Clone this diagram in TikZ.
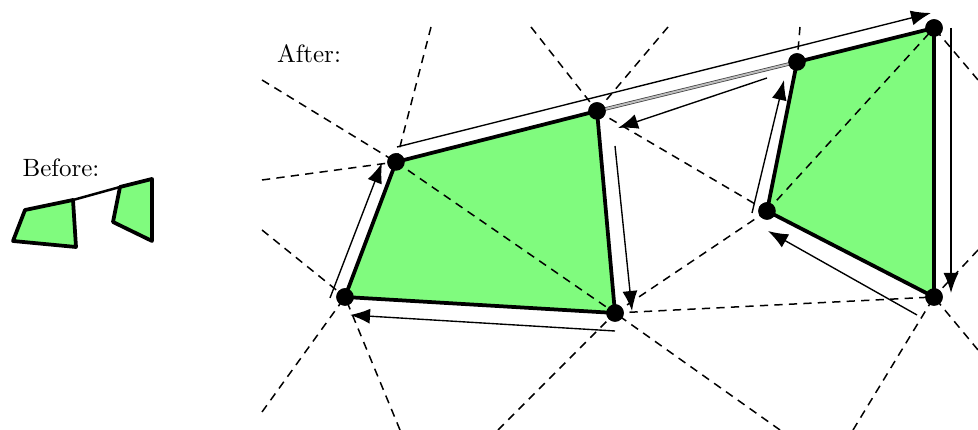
\documentclass[tikz,border=0pt]{standalone}
\usepackage{xcolor}
\usepackage{tikz}
\usetikzlibrary{
  arrows.meta,
  positioning,
  calc
}
\definecolor{FaceGreen}{HTML}{80FB7E}
\definecolor{SeamGray}{HTML}{BDBDBD}
\tikzset{
  vertex/.style={
    circle,
    fill=black,
    inner sep=0pt,
    minimum size=7pt
  },
  face/.style={
    fill=FaceGreen
  },
  border/.style={
    line width=1.5pt,
    line join=round
  },
  cell/.style={
    line width=0.6pt,
    dash pattern=on 3.3pt off 2.5pt
  },
  walk/.style={
    -{Latex[length=8pt,width=6pt]},
    line width=0.55pt
  },
  seam/.style={
    draw=black!75,
    line width=0.3pt,
    double=SeamGray,
    double distance=0.8pt
  },
  caption/.style={
    inner sep=0pt,
    font=\normalsize
  }
}

\begin{document}
\begin{tikzpicture}[x=0.4pt, y=-0.4pt]

  \useasboundingbox (0,0) rectangle (978,430);

  % before
  \node[caption] (before) at (61,168) {Before:};

  \coordinate (a0) at (13,241);
  \coordinate (b0) at (25,210);
  \coordinate (c0) at (73,200);
  \coordinate (d0) at (76,247);
  \coordinate (e0) at (120,187);
  \coordinate (f0) at (152,179);
  \coordinate (g0) at (152,241);
  \coordinate (h0) at (113,222);

  \filldraw[face, border] (a0) -- (b0) -- (c0) -- (d0) -- cycle;
  \filldraw[face, border] (h0) -- (e0) -- (f0) -- (g0) -- cycle;
  \draw[line width=1pt] (c0) -- (e0);

  % after
  \node[caption] (after) at (309,54) {After:};

  \node[vertex] (A) at (345,297) {};
  \node[vertex] (B) at (396,162) {};
  \node[vertex] (C) at (597,111) {};
  \node[vertex] (D) at (615,313) {};
  \node[vertex] (E) at (797,62) {};
  \node[vertex] (F) at (934,28) {};
  \node[vertex] (G) at (934,297) {};
  \node[vertex] (H) at (767,211) {};

  \fill[face] (A.center) -- (B.center) -- (C.center) -- (D.center) -- cycle;
  \fill[face] (H.center) -- (E.center) -- (F.center) -- (G.center) -- cycle;

  % dual cells
  \coordinate (bUL) at (262,80);
  \coordinate (bUp) at (431,27);
  \coordinate (bLf) at (262,180);
  \coordinate (aLf) at (262,230);
  \coordinate (aDL) at (262,412);
  \coordinate (aDn) at (400,430);
  \coordinate (cUL) at (531,27);
  \coordinate (cUR) at (668,27);
  \coordinate (dDL) at (498,430);
  \coordinate (dDR) at (780,430);
  \coordinate (eUp) at (800,27);
  \coordinate (fRt) at (978,80);
  \coordinate (gUR) at (978,250);
  \coordinate (gDL) at (853,430);
  \coordinate (gDR) at (978,350);

  \draw[cell] (bUL) -- (B.center);
  \draw[cell] (bUp) -- (B.center);
  \draw[cell] (bLf) -- (B.center);
  \draw[cell] (aLf) -- (A.center);
  \draw[cell] (aDL) -- (A.center);
  \draw[cell] (aDn) -- (A.center);
  \draw[cell] (cUL) -- (C.center);
  \draw[cell] (cUR) -- (C.center);
  \draw[cell] (dDL) -- (D.center);
  \draw[cell] (dDR) -- (D.center);
  \draw[cell] (eUp) -- (E.center);
  \draw[cell] (fRt) -- (F.center);
  \draw[cell] (gUR) -- (G.center);
  \draw[cell] (gDL) -- (G.center);
  \draw[cell] (gDR) -- (G.center);
  \draw[cell] (B.center) -- (D.center);
  \draw[cell] (C.center) -- (H.center);
  \draw[cell] (D.center) -- (H.center);
  \draw[cell] (D.center) -- (G.center);
  \draw[cell] (H.center) -- (F.center);

  % borders
  \draw[border] (A.center) -- (B.center) -- (C.center) -- (D.center) -- cycle;
  \draw[border] (H.center) -- (E.center) -- (F.center) -- (G.center) -- cycle;
  \draw[seam] (C.center) -- (E.center);

  \foreach \v in {A,B,C,D,E,F,G,H} {
    \node[vertex] at (\v) {};
  }

  % boundary walk
  \coordinate (w1s) at (330,298);
  \coordinate (w1e) at (382,163);
  \coordinate (w2s) at (397,147);
  \coordinate (w2e) at (931,13);
  \coordinate (w3s) at (767,78);
  \coordinate (w3e) at (618,128);
  \coordinate (w4s) at (615,146);
  \coordinate (w4e) at (632,311);
  \coordinate (w5s) at (615,331);
  \coordinate (w5e) at (350,315);
  \coordinate (w6s) at (752,213);
  \coordinate (w6e) at (784,80);
  \coordinate (w7s) at (951,28);
  \coordinate (w7e) at (951,293);
  \coordinate (w8s) at (917,315);
  \coordinate (w8e) at (768,231);

  \draw[walk] (w1s) -- (w1e);
  \draw[walk] (w2s) -- (w2e);
  \draw[walk] (w3s) -- (w3e);
  \draw[walk] (w4s) -- (w4e);
  \draw[walk] (w5s) -- (w5e);
  \draw[walk] (w6s) -- (w6e);
  \draw[walk] (w7s) -- (w7e);
  \draw[walk] (w8s) -- (w8e);

\end{tikzpicture}
\end{document}
